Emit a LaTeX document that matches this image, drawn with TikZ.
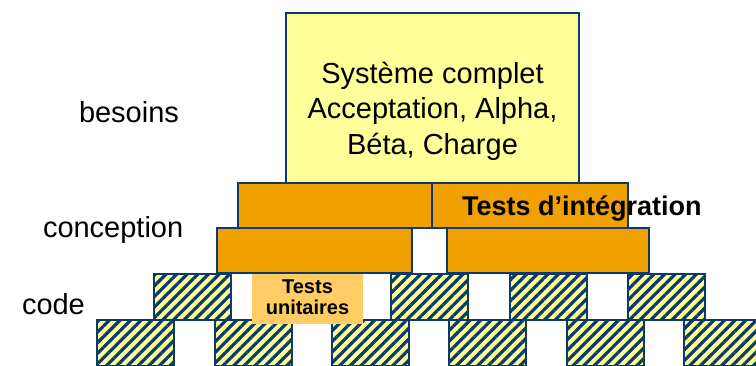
\documentclass[tikz,border=0pt]{standalone}
\usepackage{fontspec}
\setmainfont{Liberation Sans}
\usepackage{xcolor}
\usetikzlibrary{positioning,patterns.meta}
\definecolor{navyline}{HTML}{0B3A6B}
\definecolor{paleyellow}{HTML}{FFFF99}
\definecolor{integorange}{HTML}{F0A000}
\definecolor{unitorange}{HTML}{FFCC66}

\begin{document}
\begin{tikzpicture}[x=1pt,y=-1pt,every node/.style={outer sep=0pt,inner sep=0pt}]
\tikzstyle{block}=[draw=navyline,line width=1.5pt,anchor=north west]
\tikzstyle{orangeblock}=[block,fill=integorange,minimum height=45]
\tikzstyle{brick}=[block,preaction={fill=paleyellow},pattern={Lines[angle=45,
distance=7.5pt,line width=3.2pt]},pattern color=navyline,minimum width=77,
minimum height=46]
\tikzstyle{level}=[font=\fontsize{29}{34}\selectfont,anchor=base west]
\useasboundingbox (0,0) rectangle (756,366);
\clip (0,0) rectangle (756,366);
%
% code: unit test bricks
\foreach \bx [count=\i] in {97,215,332,449,567,684}
  \node (low\i) [brick] at (\bx,320) {};
\foreach \bx [count=\i] in {154,391,510,628}
  \node (up\i) [brick] at (\bx,274) {};
\node (unit) [fill=unitorange,minimum width=111,minimum height=54,
anchor=north west,align=center,font=\bfseries\fontsize{20}{21}\selectfont]
at (252,270) {Tests\\unitaires};
%
% conception: integration blocks
\node (intA) [orangeblock,minimum width=194] at (238,183) {};
\node (intB) [orangeblock,minimum width=196,right=0pt of intA] {};
\node (intC) [orangeblock,minimum width=195] at (217,228) {};
\node (intD) [orangeblock,minimum width=202,right=35pt of intC] {};
\node (intlabel) [anchor=base west,font=\bfseries\fontsize{27}{30}\selectfont]
at (462,216) {Tests d’intégration};
%
% besoins: whole system
\node (sys) [block,fill=paleyellow,minimum width=293,minimum height=170]
at (286,13) {};
\node (systext) [align=center,font=\fontsize{29}{35.5}\selectfont]
at ([yshift=-13pt]sys.center) {Système complet\\Acceptation, Alpha,\\Béta, Charge};
%
\node (besoins) [level] at (79,123) {besoins};
\node (conception) [level] at (43,238) {conception};
\node (code) [level] at (22,315) {code};
\end{tikzpicture}
\end{document}
